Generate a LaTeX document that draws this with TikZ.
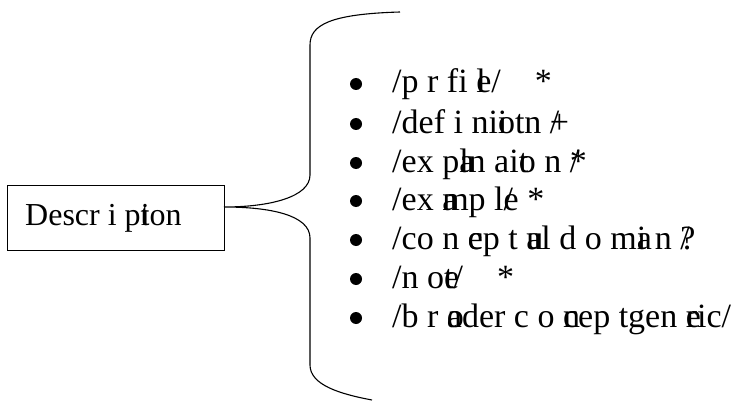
\documentclass[tikz,border=0pt]{standalone}
\usepackage{fontspec}
\setmainfont{Liberation Serif}
% two glyphs printed on top of each other
\newcommand\ovl[2]{\rlap{#1}#2}
\tikzset{
  x=1pt, y=-1pt,
  labelbox/.style={draw, line width=0.8pt, minimum width=217pt, minimum height=65pt, inner sep=0pt},
  bracepath/.style={line width=1.1pt},
  itemtext/.style={anchor=base west, inner sep=0pt, font=\fontsize{34}{38}\selectfont},
  bulletdot/.style={circle, fill=black, inner sep=0pt, minimum size=12pt},
}
\begin{document}
\begin{tikzpicture}
\useasboundingbox (0,0) rectangle (733,401);
% label box
\node[labelbox] (desc) at (115.5,217.5) {};
\node[anchor=base west, inner sep=0pt, font=\fontsize{32}{38}\selectfont] (desctext) at (25,225) {Descr i p\ovl{t}{i}on};
% brace
\coordinate (tip) at (224,207);
\coordinate (top) at (400,12);
\coordinate (bot) at (372,400);
\draw[bracepath] (top) .. controls (330,14) and (310,25) .. (310,45)
  -- (310,175) .. controls (310,197) and (270,207) .. (tip)
  .. controls (270,207) and (310,215) .. (310,238)
  -- (310,365) .. controls (310,385) and (340,394) .. (bot);
% bullet list
\foreach \yy/\txt [count=\i] in {
  84/{/p r fi \ovl{l}{e}/ \ \ \ *},
  124/{/def i ni\ovl{i}{o}tn \ovl{/}{+}},
  163/{/ex p\ovl{a}{l}n ai\ovl{t}{o} n \ovl{/}{*}},
  201/{/ex \ovl{a}{m}p l\ovl{/}{e} *},
  240/{/co n \ovl{c}{e}p t \ovl{u}{a}l d o m\ovl{a}{i} n \ovl{/}{?}},
  279/{/n o\ovl{e}{t}/ \ \ \ *},
  318/{/b r \ovl{o}{a}der c o \ovl{n}{c}ep tgen \ovl{e}{r}ic/}} {
  \node[bulletdot] (b\i) at (356,\yy) {};
  \node[itemtext] (t\i) at (392,\yy+9) {\txt};
}
\end{tikzpicture}
\end{document}
